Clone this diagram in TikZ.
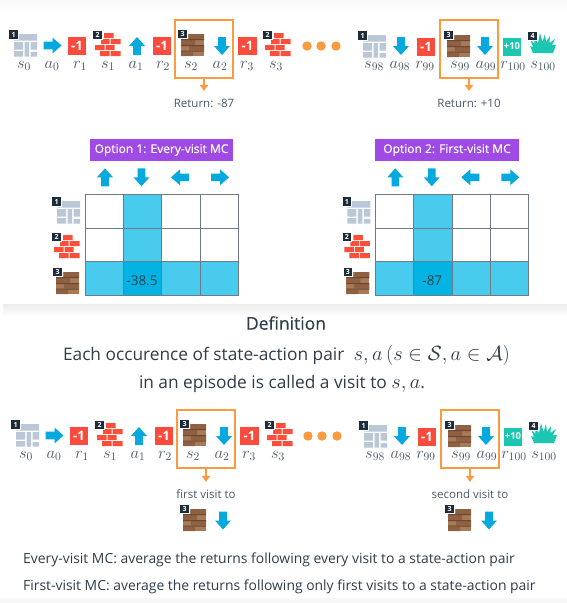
\RequirePackage{fix-cm}
\documentclass[tikz,border=0pt]{standalone}
\usepackage[no-math]{fontspec}
\setmainfont{Open Sans}
\newfontfamily\semif[FakeBold=0.35]{Open Sans}
\usetikzlibrary{arrows.meta}
\definecolor{wallc}{HTML}{B9C7D6}
\definecolor{brickc}{HTML}{FB4F3C}
\definecolor{woodc}{HTML}{8F6143}
\definecolor{wooda}{HTML}{A87B58}
\definecolor{woodb}{HTML}{6E4630}
\definecolor{grassc}{HTML}{1BC7B1}
\definecolor{arrowc}{HTML}{05A9DD}
\definecolor{rewardc}{HTML}{FA4B3C}
\definecolor{pickc}{HTML}{FB9A3F}
\definecolor{inkc}{HTML}{4A5967}
\definecolor{darkc}{HTML}{2E3D49}
\definecolor{badgec}{HTML}{1E2C3A}
\definecolor{optionc}{HTML}{A04AE6}
\definecolor{cella}{HTML}{48CBEC}
\definecolor{cellb}{HTML}{02B3E4}
\definecolor{gridc}{HTML}{6F7A87}
\definecolor{bandc}{HTML}{EDEDED}
\tikzset{
  badge/.style={fill=badgec,draw=white,line width=.6pt,text=white,font=\fontsize{7}{7}\selectfont\bfseries,minimum size=9.5pt,inner sep=0pt},
  reward/.style={fill=rewardc,text=white,font=\fontsize{13}{13}\selectfont\bfseries,minimum size=18.5pt,inner sep=0pt},
  rewardten/.style={fill=grassc,text=white,font=\fontsize{9.5}{9.5}\selectfont\bfseries,minimum width=18.5pt,minimum height=18pt,inner sep=0pt},
  seqlabel/.style={text=inkc,font=\fontsize{16.5}{16.5}\selectfont,anchor=base,inner sep=0pt},
  pickbox/.style={draw=pickc,line width=1.7pt,minimum width=58pt,minimum height=58pt,inner sep=0pt},
  caption/.style={text=inkc,font=\fontsize{11.5}{11.5}\selectfont,minimum height=24pt,inner sep=0pt},
  pickarrow/.style={draw=pickc,line width=1.4pt,-{Triangle[length=6pt,width=8.5pt]}},
  optionbox/.style={fill=optionc,text=white,font=\fontsize{12}{12}\selectfont\semif,minimum height=22pt,inner sep=0pt},
  bodytext/.style={text=darkc,inner sep=0pt},
}
\newcommand\bigmath[1]{{\fontsize{20.5}{20.5}\selectfont$#1$}}
\newcommand\iconA[3]{\begin{scope}[shift={(#1,#2)}]
  \fill[wallc] (0,0) rectangle (23,6.5) (0,8) rectangle (9,15.5) (0,17) rectangle (9,22.5)
     (10.5,8) rectangle (15,22.5) (16.5,8) rectangle (23,15.5) (16.5,18) rectangle (23,22.5);
  \node[badge] (#3) at (-.5,.5) {1};
\end{scope}}
\newcommand\iconB[3]{\begin{scope}[shift={(#1,#2)}]
  \fill[brickc] (9,0) rectangle (18.5,5) (6,6) rectangle (14.5,11) (15.5,6) rectangle (25.5,11)
     (0,12) rectangle (9.5,17) (10.5,12) rectangle (19.5,17) (5,18) rectangle (14.5,23) (15.5,18) rectangle (25.5,23);
  \node[badge] (#3) at (2.5,2) {2};
\end{scope}}
\newcommand\iconC[3]{\begin{scope}[shift={(#1,#2)}]
  \fill[wooda] (0,0) rectangle (23,22);
  \fill[woodc] (8,0) rectangle (23,5) (0,6) rectangle (14,11) (8,12) rectangle (23,16.5) (0,17.5) rectangle (12,22);
  \fill[woodb] (0,5) rectangle (23,6) (0,11) rectangle (23,12) (0,16.5) rectangle (23,17.5);
  \node[badge] (#3) at (1.5,0) {3};
\end{scope}}
\newcommand\iconD[3]{\begin{scope}[shift={(#1,#2)}]
  \fill[grassc] (0,5) -- (4.5,10) -- (4,2) -- (8,9) -- (10,-1) -- (12.5,8) -- (15,0) -- (16,8) -- (20,2) -- (19.5,9) -- (25,5) -- (22,11) -- (26,11)
     -- (23,19) -- (3,19) -- (0,12) -- (3,13) -- cycle;
  \node[badge] (#3) at (2.5,2) {4};
\end{scope}}
% y runs downwards in this picture, but rotate keeps the page sense: 90 is up, 270 is down
\newcommand\actarrow[3]{\fill[arrowc,shift={(#1,#2)},rotate=#3]
  (9,0) -- (0,8) -- (0,3.8) -- (-9,3.8) -- (-9,-3.8) -- (0,-3.8) -- (0,-8) -- cycle;}
\newcommand\episode[4]{%
\begin{scope}[shift={(#2,#4)}]
  \iconA{14}{34}{#1ba}
  \actarrow{52.5}{45.5}{0}
  \node[reward] (#1ra) at (77,46) {-1};
  \iconB{95}{33}{#1bb}
  \actarrow{137}{46}{90}
  \node[reward] (#1rb) at (162,46) {-1};
  \iconC{181}{34}{#1bc}
  \actarrow{222}{46}{270}
  \node[reward] (#1rc) at (247.5,46) {-1};
  \iconB{265}{33}{#1bd}
  \node[pickbox] (#1boxa) at (204,49) {};
  \node[seqlabel] (#1la) at (24,68) {$s_0$};
  \node[seqlabel] (#1lb) at (52,68) {$a_0$};
  \node[seqlabel] (#1lc) at (80,68) {$r_1$};
  \node[seqlabel] (#1ld) at (108,68) {$s_1$};
  \node[seqlabel] (#1le) at (136,68) {$a_1$};
  \node[seqlabel] (#1lf) at (163,68) {$r_2$};
  \node[seqlabel] (#1lg) at (191,68) {$s_2$};
  \node[seqlabel] (#1lh) at (220,68) {$a_2$};
  \node[seqlabel] (#1li) at (247,68) {$r_3$};
  \node[seqlabel] (#1lj) at (276,68) {$s_3$};
\end{scope}
\begin{scope}[shift={(#3,#4)}]
  \fill[pickc] (307,46) circle (4.7) (321,46) circle (4.7) (336,46) circle (4.7);
  \iconA{363}{35}{#1be}
  \actarrow{401}{46}{270}
  \node[reward] (#1rd) at (426,47) {-1};
  \iconC{447}{35}{#1bf}
  \actarrow{485}{46}{270}
  \node[rewardten] (#1re) at (512,46.5) {+10};
  \iconD{530}{34}{#1bg}
  \node[pickbox] (#1boxb) at (469,49) {};
  \node[seqlabel] (#1lk) at (374,68) {$s_{98}$};
  \node[seqlabel] (#1ll) at (400,68) {$a_{98}$};
  \node[seqlabel] (#1lm) at (425,68) {$r_{99}$};
  \node[seqlabel] (#1ln) at (460,68) {$s_{99}$};
  \node[seqlabel] (#1lo) at (486,68) {$a_{99}$};
  \node[seqlabel] (#1lp) at (513,68) {$r_{100}$};
  \node[seqlabel] (#1lq) at (543,68) {$s_{100}$};
\end{scope}}
\newcommand\qtable[3]{\begin{scope}[shift={(#1,194.3)}]
  \fill[cella] (38.33,0) rectangle (76.67,101.3) (0,67.5) rectangle (153.4,101.3);
  \fill[cellb] (38.33,67.5) rectangle (76.67,101.3);
  \foreach \gx in {0,38.33,76.67,115,153.4} \draw[gridc,line width=.9pt] (\gx,0) -- (\gx,101.3);
  \foreach \gy in {0,33.7,67.5,101.3} \draw[gridc,line width=.9pt] (0,\gy) -- (153.4,\gy);
  \node[text=darkc,font=\fontsize{13.5}{13.5}\selectfont,inner sep=0pt] (#2val) at (57,86) {#3};
  \iconA{-28}{6.7}{#2ba}
  \iconB{-31}{40.7}{#2bb}
  \iconC{-29}{77.7}{#2bc}
  \actarrow{20}{-17}{90}
  \actarrow{56.5}{-17}{270}
  \actarrow{95}{-17}{180}
  \actarrow{135}{-17}{0}
\end{scope}}
\begin{document}
\begin{tikzpicture}[x=1pt,y=-1pt]
\useasboundingbox (0,0) rectangle (567,603);
\fill[white] (0,0) rectangle (567,603);
\shade[top color=bandc!35!white,bottom color=white] (0,0) rectangle (567,14);
\shade[top color=bandc,bottom color=white] (3,304) rectangle (567,317);
\fill[bandc!45!white] (0,598) rectangle (567,603);

\episode{p}{0}{0}{0}
\node[caption] (reta) at (204,103) {Return: -87};
\node[caption] (retb) at (469,103) {Return: +10};
\draw[pickarrow] (pboxa.south) -- (reta.north);
\draw[pickarrow] (pboxb.south) -- (retb.north);

\node[optionbox,minimum width=143pt] (opta) at (161.5,150) {Option 1: Every-visit MC};
\node[optionbox,minimum width=144pt] (optb) at (447,150) {Option 2: First-visit MC};
\qtable{85}{ta}{-38.5}
\qtable{375.3}{tb}{-87}

\node[bodytext,font=\fontsize{17.5}{17.5}\selectfont\semif] (deft) at (286,323) {Definition};
\node[bodytext,font=\fontsize{17.3}{17.3}\selectfont,anchor=base] (defa) at (286.5,360) {Each occurence of state-action pair \;\bigmath{s,a\,(s\in\mathcal{S},a\in\mathcal{A})}};
\node[bodytext,font=\fontsize{17.3}{17.3}\selectfont,anchor=base] (defb) at (282,388) {in an episode is called a visit to \bigmath{s,a}.};

\episode{q}{2}{1}{390}
\node[caption] (visa) at (206,494) {first visit to};
\node[caption] (visb) at (470,494) {second visit to};
\draw[pickarrow] (qboxa.south) -- (visa.north);
\draw[pickarrow] (qboxb.south) -- (visb.north);
\iconC{183}{509}{qbh}
\actarrow{223}{520.5}{270}
\iconC{448}{509}{qbi}
\actarrow{489}{520.5}{270}

\node[bodytext,font=\fontsize{13.9}{13.9}\selectfont,anchor=base west] (every) at (23,563) {Every-visit MC: average the returns following every visit to a state-action pair};
\node[bodytext,font=\fontsize{13.9}{13.9}\selectfont,anchor=base west] (first) at (23,590) {First-visit MC: average the returns following only first visits to a state-action pair};
\end{tikzpicture}
\end{document}
